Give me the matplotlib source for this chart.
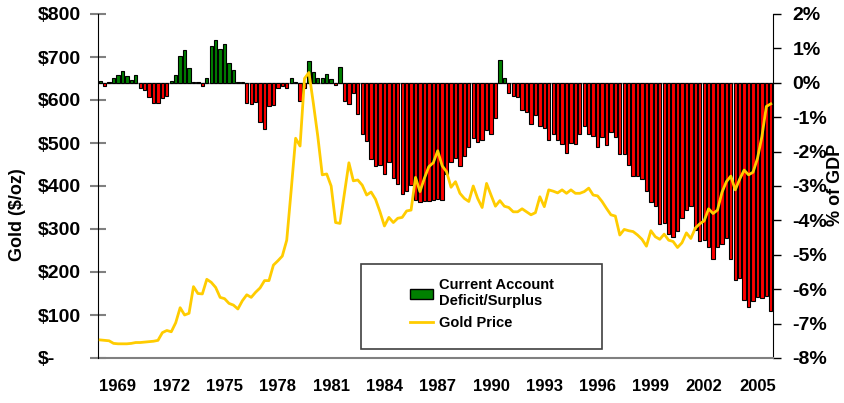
import numpy as np
import matplotlib
matplotlib.use("Agg")
import matplotlib.pyplot as plt
from matplotlib.patches import Patch, Rectangle
from matplotlib.lines import Line2D

plt.rcParams['font.family'] = ['Liberation Sans', 'DejaVu Sans']
plt.rcParams['font.weight'] = 'bold'

# quarterly data, 1968Q1 .. 2005Q4
ca_gdp = [0.04, -0.09, 0.03, 0.13, 0.24, 0.35, 0.20, 0.08, 0.23, -0.16,
          -0.21, -0.41, -0.59, -0.59, -0.44, -0.39, 0.04, 0.23, 0.78, 0.94,
          0.44, 0.03, 0.02, -0.09, 0.14, 1.07, 1.23, 0.97, 1.12, 0.59,
          0.36, 0.01, 0.03, -0.59, -0.62, -0.55, -1.13, -1.33, -0.67, -0.65,
          -0.14, -0.09, -0.16, 0.14, 0.01, -0.53, -0.16, 0.62, 0.32, 0.13,
          0.15, 0.26, 0.10, -0.06, 0.46, -0.52, -0.62, -0.31, -0.92, -1.48,
          -1.69, -2.21, -2.41, -2.38, -2.64, -2.29, -2.76, -2.95, -3.22, -3.15,
          -2.97, -3.41, -3.47, -3.43, -3.43, -3.40, -3.38, -3.41, -2.66, -2.30,
          -2.18, -2.42, -2.14, -1.87, -1.60, -1.73, -1.65, -1.38, -1.48, -1.02,
          0.65, 0.15, -0.29, -0.38, -0.41, -0.78, -0.84, -1.19, -0.93, -1.27,
          -1.31, -1.65, -1.48, -1.65, -1.79, -2.04, -1.75, -1.79, -1.48, -1.26,
          -1.48, -1.55, -1.86, -1.59, -1.81, -1.43, -1.59, -2.06, -2.06, -2.39,
          -2.71, -2.71, -2.80, -3.15, -3.47, -3.59, -4.10, -4.08, -4.40, -4.49,
          -4.30, -3.93, -3.70, -3.59, -4.27, -4.59, -4.56, -4.76, -5.13, -4.78,
          -4.69, -4.50, -5.13, -5.73, -5.68, -6.31, -6.52, -6.34, -6.23, -6.26,
          -6.21, -6.63]

gold = [42, 41, 40, 34, 33, 33, 33, 34, 36, 36,
        37, 38, 39, 41, 59, 64, 61, 82, 117, 100,
        104, 166, 150, 149, 183, 176, 164, 141, 138, 127,
        123, 114, 133, 147, 141, 153, 163, 180, 180, 216,
        226, 237, 274, 390, 511, 493, 650, 664, 592, 515,
        426, 428, 400, 315, 313, 383, 454, 412, 414, 402,
        379, 386, 369, 340, 307, 327, 315, 325, 327, 342,
        344, 420, 387, 418, 445, 454, 482, 447, 433, 397,
        410, 383, 371, 364, 400, 371, 350, 406, 379, 353,
        366, 353, 350, 340, 340, 347, 340, 333, 338, 375,
        352, 391, 388, 384, 391, 383, 391, 383, 383, 387,
        395, 379, 377, 364, 348, 333, 330, 286, 299, 296,
        294, 286, 276, 260, 296, 282, 276, 288, 274, 271,
        257, 268, 291, 278, 302, 312, 319, 347, 336, 344,
        385, 410, 423, 391, 416, 437, 426, 432, 464, 515,
        585, 591]

year_labels = ['1969', '1972', '1975', '1978', '1981', '1984', '1987',
               '1990', '1993', '1996', '1999', '2002', '2005']
label_pos = [4 + 12 * k for k in range(len(year_labels))]

x = np.arange(len(ca_gdp))
colors = ['#008000' if v >= 0 else '#FF0000' for v in ca_gdp]

fig = plt.figure(figsize=(8.44, 4.03), dpi=100)
W, H = 844, 403
ax = fig.add_axes([98 / W, 1 - 358 / H, 675 / W, 344 / H])
ax2 = ax.twinx()

ax.bar(x, ca_gdp, width=0.75, color=colors, edgecolor='black', linewidth=0.8, zorder=2)
ax.axhline(0, color='#808080', lw=1, zorder=1)
ax.set_ylim(-8, 2)
ax.set_xlim(-0.5, len(ca_gdp) - 0.5)
ax.yaxis.tick_right()
ax.yaxis.set_label_position('right')
ax.set_yticks(range(-8, 3))
ax.set_yticklabels([f"{v}%" for v in range(-8, 3)], fontsize=14, fontweight='bold')
ax.tick_params(axis='y', direction='out', length=6, width=1, pad=8, color='black')
ax.set_xticks(label_pos)
ax.set_xticklabels(year_labels, fontsize=12, fontweight='bold')
ax.tick_params(axis='x', length=0, pad=15)
for s in ['top', 'left']:
    ax.spines[s].set_visible(False)
ax.spines['right'].set_color('black')
ax.spines['bottom'].set_color('#808080')
ax.spines['bottom'].set_linewidth(1.5)

ax2.plot(x, gold, color='#FFCC00', lw=2, zorder=3)
ax2.set_ylim(0, 800)
ax2.yaxis.tick_left()
ax2.yaxis.set_label_position('left')
ax2.set_yticks(range(0, 801, 100))
ax2.set_yticklabels(['$-'] + [f"${v}" for v in range(100, 801, 100)],
                    fontsize=14, fontweight='bold')
ax2.tick_params(axis='y', direction='inout', length=12, width=1.5, pad=37, color='#808080')
for lab in ax2.get_yticklabels():
    lab.set_horizontalalignment('left')
for s in ['top', 'right', 'bottom']:
    ax2.spines[s].set_visible(False)
ax2.spines['left'].set_color('black')

fig.text(18 / W, 1 - 215 / H, 'Gold ($/oz)', rotation=90, ha='center', va='center',
         fontsize=13, fontweight='bold')
fig.text(836 / W, 1 - 185 / H, '% of GDP', rotation=90, ha='center', va='center',
         fontsize=13, fontweight='bold')

# legend box
fig.patches.append(Rectangle((361 / W, 1 - 349 / H), 241 / W, 85 / H,
                             transform=fig.transFigure, facecolor='white',
                             edgecolor='#404040', lw=1.2, zorder=5))
handles = [Patch(facecolor='#008000', edgecolor='black'),
           Line2D([], [], color='#FFCC00', lw=2)]
fig.legend(handles, ['Current Account\nDeficit/Surplus', 'Gold Price'],
           loc='upper left', bbox_to_anchor=(397 / W, 1 - 265 / H),
           frameon=False, handlelength=1.6, handletextpad=0.4,
           labelspacing=0.5, prop={'weight': 'bold', 'size': 10.5})

fig.savefig('out.png', dpi=100)
